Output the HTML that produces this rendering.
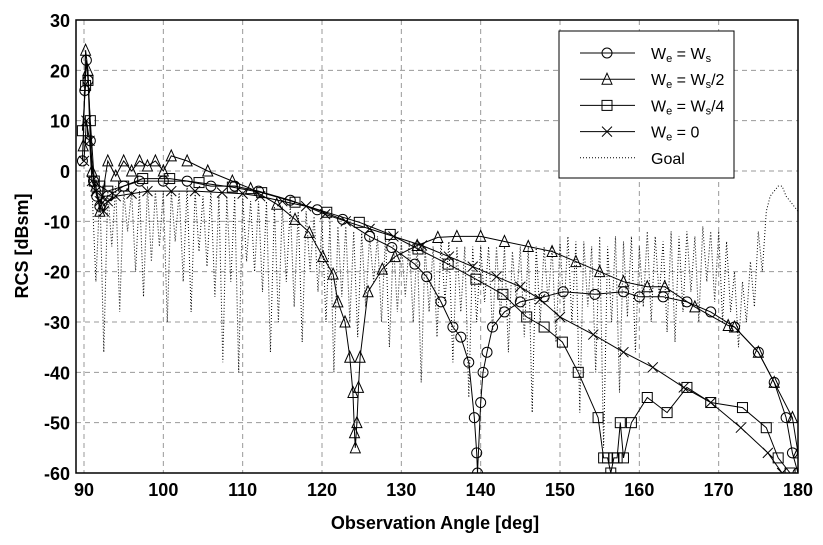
<!DOCTYPE html>
<html><head><meta charset="utf-8"><style>
body{margin:0;background:#fff;}
svg{display:block;font-family:"Liberation Sans",Arial,sans-serif;}
</style></head><body>
<svg id="chart" width="823" height="545" viewBox="0 0 823 545" xmlns="http://www.w3.org/2000/svg">
<defs><clipPath id="clip"><rect x="76" y="20" width="722" height="453"/></clipPath></defs>
<g id="grid"></g>
<g id="series" clip-path="url(#clip)"></g>
<rect x="76" y="20" width="722" height="453" fill="none" stroke="#000" stroke-width="1.5"/>
<g id="ticks"></g>
<text x="435" y="529" text-anchor="middle" font-size="18" font-weight="bold">Observation Angle [deg]</text>
<text transform="translate(28,246) rotate(-90)" text-anchor="middle" font-size="18" font-weight="bold">RCS [dBsm]</text>
<g id="legend">
<rect x="559" y="31" width="175" height="147" fill="#fff" stroke="#000" stroke-width="1"/>
</g>
</svg>
<script>
const xTicks=[90,100,110,120,130,140,150,160,170,180];
const yTicks=[30,20,10,0,-10,-20,-30,-40,-50,-60];
const circleX=[89.8,90.1,90.3,90.5,90.8,91.2,91.6,92,93,95,97,100,103,106,109,112,116,119.4,122.6,126,128.8,131.7,133.2,135,136.5,137.5,138.5,139.2,139.5,139.6,140,140.3,140.8,141.5,143,145,148,150.4,154.4,158,160,163,166,169,172,175,177,178.5,179.3,180];
const circleY=[2,16,22,18,6,-2,-5,-7,-5,-3,-2,-2,-2,-3,-3,-4,-5.8,-7.7,-9.6,-13,-15.2,-18.5,-21,-26,-31,-33,-38,-49,-56,-60,-46,-40,-36,-31,-28,-26,-25,-24,-24.5,-24,-25,-25,-26,-28,-31,-36,-42,-49,-56,-60];
const triX=[89.9,90.2,90.5,91,91.5,92,93,94,95,96,97,98,99,100,101,103,105.6,108.7,111,114.3,116.6,118.4,120.1,121.4,122,122.9,123.5,123.9,124.1,124.2,124.4,124.6,124.8,125.8,127.6,129.2,132,134.6,137,140,143,146,149,152,155,158,161,163.2,167,171.2,172,175,177,179.3,180];
const triY=[5,24,20,0,-3,-8,2,-1,2,0,2,1,2,0,3,2,0,-2,-3.5,-6.6,-9.6,-12.2,-17,-20.5,-26,-30,-37,-44,-52,-55,-50,-43,-37,-24,-19.5,-17,-14.8,-13.2,-13,-13,-14,-15,-16,-18,-20,-22,-23,-23,-27,-30.7,-31,-36,-42,-49,-56];
const sqX=[89.8,90.2,90.5,90.8,91.3,92,93,95,97.4,100.8,104.5,108.7,112.4,116.6,120.6,124.7,128.6,132.1,135.9,139.4,142.8,145.8,148,150.3,152.3,154.8,155.5,156,156.4,156.8,157.2,157.6,158,159,161,163.5,166,169,173,176,177.5,179];
const sqY=[8,17,18,10,-2,-3,-4,-3,-1.5,-1.5,-2.3,-3.2,-4.3,-6.2,-8.2,-10.2,-12.6,-15.5,-18.5,-21.5,-24.5,-29,-31,-34,-40,-49,-57,-57,-60,-57,-57,-50,-57,-50,-45,-48,-43,-46,-47,-51,-57,-60];
const xX=[90,90.3,90.7,91,91.5,92,92.5,93,94,96,98,101,104,107.4,110,112.2,115,118,120.4,123,126,129,132.6,136,139,142,145,147.5,150,154.2,158,161.7,165.6,169,172.8,176.2,178];
const xY=[2,10,6,-2,-4,-6,-8,-6,-5,-4.5,-4,-4,-4,-4.3,-4.5,-5,-6,-7,-8.6,-10,-11.5,-13,-14.8,-17,-19,-21,-23,-25.5,-29,-32.5,-36,-39,-43,-46,-51,-56,-60];
const goalStart=91, goalStep=0.5;
const goalY=[-3,-22,-4,-36,-4,-15,-3,-28,-4,-12,
-4,-20,-4,-25,-3,-18,-4,-15,-4,-30,
-4,-14,-4,-22,-3,-28,-4,-16,-5,-19,
-4,-25,-5,-38,-5,-22,-5,-40,-5,-18,
-6,-20,-6,-24,-6,-36,-7,-30,-7,-22,
-7,-27,-8,-34,-8,-20,-9,-24,-10,-30,
-10,-40,-11,-25,-11,-30,-12,-33,-12,-27,
-13,-22,-13,-30,-13,-35,-14,-28,-14,-25,
-14,-30,-14,-42,-15,-28,-15,-33,-14,-26,
-14,-38,-15,-28,-15,-45,-15,-30,-15,-26,
-15,-32,-15,-29,-15,-36,-16,-26,-15,-33,
-15,-48,-15,-30,-15,-26,-15,-34,-14,-28,
-13,-30,-14,-48,-14,-27,-15,-40,-13,-55,
-15,-30,-13,-44,-14,-29,-13,-36,-15,-27,
-12,-30,-13,-25,-14,-32,-12,-34,-13,-28,
-12,-24,-13,-30,-11,-22,-12,-26,-12,-30,
-14,-28,-20,-35,-22,-30,-18,-27,-12,-20,
-8,-5,-4,-3,-3,-5,-6,-7,-8];

const NS="http://www.w3.org/2000/svg";
const X0=76,X1=798,Y0=20,Y1=473;
const sx=v=>84+(v-90)*(798-84)/90;
const sy=v=>20+(30-v)*(Y1-Y0)/90;
function el(tag,attrs,parent){const e=document.createElementNS(NS,tag);for(const k in attrs)e.setAttribute(k,attrs[k]);parent.appendChild(e);return e;}
const grid=document.getElementById('grid'),ticks=document.getElementById('ticks'),series=document.getElementById('series');
xTicks.forEach(t=>{
  if(t>90&&t<180){const l=el('line',{x1:sx(t),x2:sx(t),y1:Y0,y2:Y1,stroke:'#999','stroke-dasharray':'5,4'},grid);
  
  }
  if(t==90){el('line',{x1:sx(t),x2:sx(t),y1:Y0,y2:Y1,stroke:'#999','stroke-dasharray':'5,4'},grid);}
  const tx=el('text',{x:sx(t),y:496,'text-anchor':'middle','font-size':18,'font-weight':'bold'},ticks);
  tx.textContent=t;
  
  
});
yTicks.forEach(t=>{
  if(t<30&&t>-60){const l=el('line',{x1:X0,x2:X1,y1:sy(t),y2:sy(t),stroke:'#999','stroke-dasharray':'5,4'},grid);
  
  }
  const tx=el('text',{x:70,y:sy(t)+7,'text-anchor':'end','font-size':18,'font-weight':'bold'},ticks);
  tx.textContent=t;
  
  
});
// goal
let gp=goalY.map((v,i)=>sx(goalStart+i*goalStep).toFixed(1)+','+sy(v).toFixed(1)).join(' ');
const gl=el('polyline',{points:gp,fill:'none',stroke:'#000','stroke-width':1,'stroke-dasharray':'1,2'},series);


function marker(type,cx,cy,parent){
  const s=5;
  if(type=='circle')return el('circle',{cx,cy,r:s,fill:'none',stroke:'#000'},parent);
  if(type=='tri')return el('polygon',{points:`${cx},${cy-s-1} ${cx-s},${cy+s} ${cx+s},${cy+s}`,fill:'none',stroke:'#000'},parent);
  if(type=='sq')return el('rect',{x:cx-s,y:cy-s,width:2*s,height:2*s,fill:'none',stroke:'#000'},parent);
  return el('path',{d:`M${cx-s},${cy-s}L${cx+s},${cy+s}M${cx-s},${cy+s}L${cx+s},${cy-s}`,stroke:'#000'},parent);
}
function drawSeries(xs,ys,type,name){
  const g=el('g',{},series);
  
  
  el('polyline',{points:xs.map((x,i)=>sx(x).toFixed(1)+','+sy(ys[i]).toFixed(1)).join(' '),fill:'none',stroke:'#000','stroke-width':1},g);
  xs.forEach((x,i)=>{const m=marker(type,sx(x),sy(ys[i]),g);
    
    });
}
drawSeries(xX,xY,'x','series-we-0');
drawSeries(sqX,sqY,'sq','series-we-ws-4');
drawSeries(triX,triY,'tri','series-we-ws-2');
drawSeries(circleX,circleY,'circle','series-we-ws');
// legend
const lg=document.getElementById('legend');
const entries=[['circle','W<tspan font-size="11" dy="3">e</tspan><tspan dy="-3"> = W</tspan><tspan font-size="11" dy="3">s</tspan>'],
['tri','W<tspan font-size="11" dy="3">e</tspan><tspan dy="-3"> = W</tspan><tspan font-size="11" dy="3">s</tspan><tspan dy="-3">/2</tspan>'],
['sq','W<tspan font-size="11" dy="3">e</tspan><tspan dy="-3"> = W</tspan><tspan font-size="11" dy="3">s</tspan><tspan dy="-3">/4</tspan>'],
['x','W<tspan font-size="11" dy="3">e</tspan><tspan dy="-3"> = 0</tspan>'],
['goal','Goal']];
entries.forEach((e,i)=>{
  const y=53+i*26.2;
  const g=el('g',{},lg);
  
  
  if(e[0]=='goal'){el('line',{x1:580,x2:635,y1:y,y2:y,stroke:'#000','stroke-dasharray':'1,2'},g);}
  else{el('line',{x1:580,x2:635,y1:y,y2:y,stroke:'#000'},g);marker(e[0],607,y,g);}
  const t=el('text',{x:651,y:y+6,'font-size':16},g);
  t.innerHTML=e[1];
});
</script>
</body></html>
